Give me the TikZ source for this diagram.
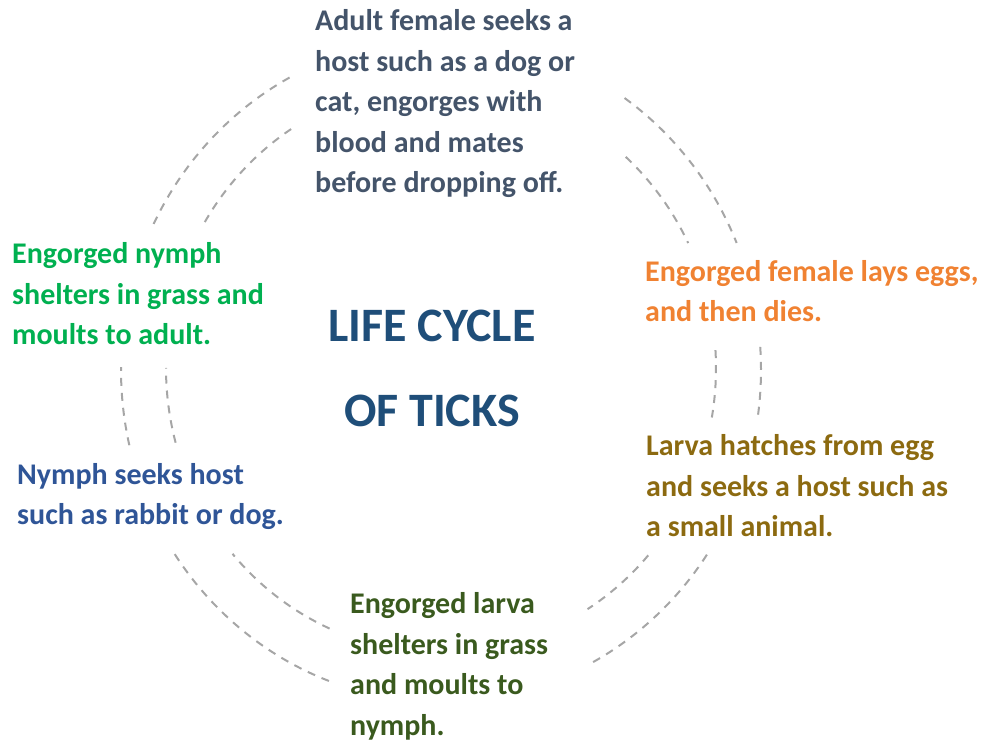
\documentclass[tikz,border=0pt]{standalone}
\usepackage{fontspec}
\setmainfont{Carlito}
\definecolor{cTop}{HTML}{44546A}
\definecolor{cGreen}{HTML}{00B050}
\definecolor{cOrange}{HTML}{F08232}
\definecolor{cLarva}{HTML}{8C6A10}
\definecolor{cOlive}{HTML}{3A5A1E}
\definecolor{cBlue}{HTML}{2F5597}
\definecolor{cTitle}{HTML}{1F4E79}
\definecolor{cRing}{HTML}{A6A6A6}
\begin{document}
\begin{tikzpicture}[x=1pt,y=1pt,
  ring/.style={draw=cRing, line width=2pt, dash pattern=on 8pt off 7pt},
  stage/.style={anchor=base west, inner sep=0pt, align=left,
    font=\bfseries\fontsize{30}{40.5}\selectfont},
  titletext/.style={anchor=base, inner sep=0pt, align=center, text=cTitle,
    font=\bfseries\fontsize{48}{85}\selectfont}]
\useasboundingbox (0,0) rectangle (987,744);
% ring centres
\coordinate (oc) at (441,374);
\coordinate (ic) at (441,376);
% outer arcs
\path (oc) ++(153.9:320 and 332) coordinate (o1)
      (oc) ++(55.0:320 and 332) coordinate (o2)
      (oc) ++(4.0:320 and 332) coordinate (o3)
      (oc) ++(-33.8:320 and 332) coordinate (o4)
      (oc) ++(-110.5:320 and 332) coordinate (o5)
      (oc) ++(193.1:320 and 332) coordinate (o6);
\draw[ring] (o1) arc[start angle=153.9, end angle=117.3, x radius=320, y radius=332];
\draw[ring] (o2) arc[start angle=55.0, end angle=22.5, x radius=320, y radius=332];
\draw[ring] (o3) arc[start angle=4.0, end angle=-7.8, x radius=320, y radius=332];
\draw[ring] (o4) arc[start angle=-33.8, end angle=-62.7, x radius=320, y radius=332];
\draw[ring] (o5) arc[start angle=-110.5, end angle=-146.9, x radius=320, y radius=332];
\draw[ring] (o6) arc[start angle=193.1, end angle=179.5, x radius=320, y radius=332];
% inner arcs
\path (ic) ++(149.2:275 and 285) coordinate (i1)
      (ic) ++(47.8:275 and 285) coordinate (i2)
      (ic) ++(3.6:275 and 285) coordinate (i3)
      (ic) ++(-41.1:275 and 285) coordinate (i4)
      (ic) ++(-113.9:275 and 285) coordinate (i5)
      (ic) ++(195.2:275 and 285) coordinate (i6);
\draw[ring] (i1) arc[start angle=149.2, end angle=122.8, x radius=275, y radius=285];
\draw[ring] (i2) arc[start angle=47.8, end angle=26.0, x radius=275, y radius=285];
\draw[ring] (i3) arc[start angle=3.6, end angle=-10.0, x radius=275, y radius=285];
\draw[ring] (i4) arc[start angle=-41.1, end angle=-57.8, x radius=275, y radius=285];
\draw[ring] (i5) arc[start angle=-113.9, end angle=-139.3, x radius=275, y radius=285];
\draw[ring] (i6) arc[start angle=195.2, end angle=180.0, x radius=275, y radius=285];
% texts (base anchor = baseline of last line)
\node[stage, text=cTop] (adult) at (315,551)
  {Adult female seeks a\\host such as a dog or\\cat, engorges with\\blood and mates\\before dropping off.};
\node[stage, text=cOrange] (eggs) at (645,422)
  {Engorged female lays eggs,\\and then dies.};
\node[stage, text=cLarva] (larva) at (646,207)
  {Larva hatches from egg\\and seeks a host such as\\a small animal.};
\node[stage, text=cOlive] (englarva) at (350,9)
  {Engorged larva\\shelters in grass\\and moults to\\nymph.};
\node[stage, text=cBlue] (nymph) at (17,219)
  {Nymph seeks host\\such as rabbit or dog.};
\node[stage, text=cGreen] (engnymph) at (12,399)
  {Engorged nymph\\shelters in grass and\\moults to adult.};
\node[titletext] (title) at (432,317) {LIFE CYCLE\\OF TICKS};
\end{tikzpicture}
\end{document}
